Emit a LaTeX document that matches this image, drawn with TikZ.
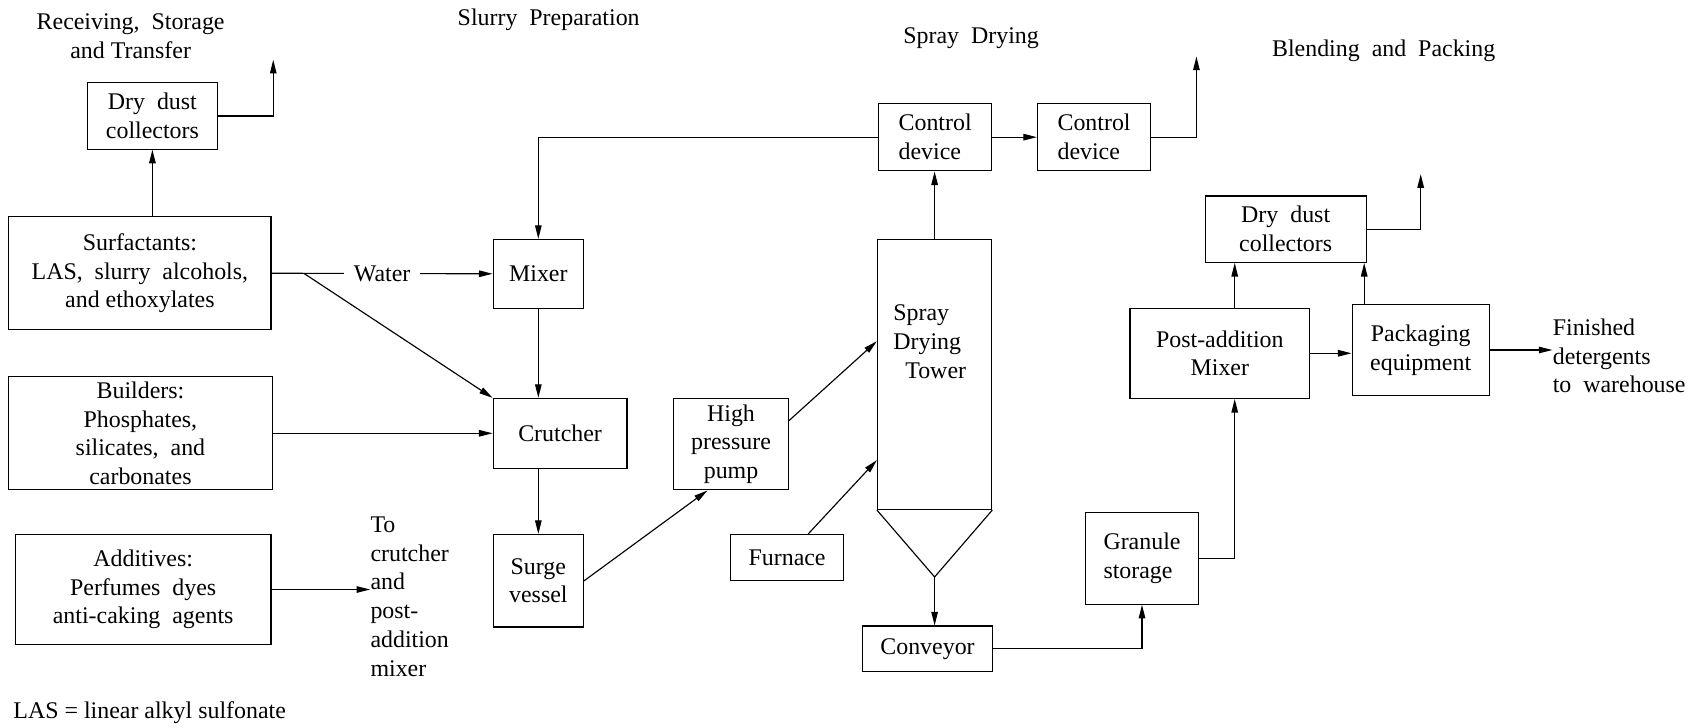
\documentclass[tikz,border=0pt]{standalone}
\usepackage{fontspec}
\setmainfont{Liberation Serif}
\usetikzlibrary{arrows.meta}

\begin{document}
\begin{tikzpicture}
	[x=0.02cm, y=-0.02cm, font=\fontsize{12.5}{15}\selectfont, inner sep=0pt,
	unit/.style	= {rectangle, draw, line width=0.6pt, inner sep=0pt, align=center},
	txt/.style	= {align=center},
	paths/.style	= {->, >={Triangle[length=2.5mm, width=1.2mm]}, line width=0.6pt},
	plain/.style	= {line width=0.6pt}]

	\useasboundingbox (0, 0) rectangle (1568, 668);

	% section headings
	\node at (120, 33)	[txt]	(hrec)		{Receiving,\ \ Storage\\and Transfer};
	\node at (504, 18)	[txt]	(hslurry)	{Slurry\ \ Preparation};
	\node at (892, 35)	[txt]	(hspray)	{Spray\ \ Drying};
	\node at (1271, 47)	[txt]	(hblend)	{Blending\ \ and\ \ Packing};
	\node at (12, 655)	[anchor=west]	(las)	{LAS = linear alkyl sulfonate};

	% raw materials
	\node at (140, 106.5)	[unit, minimum width=2.40cm, minimum height=1.22cm]	(dust1)	{Dry\ \ dust\\collectors};
	\node at (128.5, 251)	[unit, minimum width=4.82cm, minimum height=2.08cm]	(surf)	{Surfactants:\\LAS,\ \ slurry\ \ alcohols,\\and ethoxylates};
	\node at (129, 398)	[unit, minimum width=4.84cm, minimum height=2.08cm]	(build)	{Builders:\\Phosphates,\\silicates,\ \ and\\carbonates};
	\node at (131.5, 541.5)	[unit, minimum width=4.70cm, minimum height=2.02cm]	(addit)	{Additives:\\Perfumes\ \ dyes\\anti-caking\ \ agents};
	\node at (340, 548)	[anchor=west, align=left]	(tocrut)	{To\\crutcher\\and\\post-\\addition\\mixer};

	% slurry preparation
	\node at (494.5, 251.5)	[unit, minimum width=1.66cm, minimum height=1.26cm]	(mixer)	{Mixer};
	\node at (514.5, 398)	[unit, minimum width=2.46cm, minimum height=1.28cm]	(crutch)	{Crutcher};
	\node at (494.5, 533.5)	[unit, minimum width=1.66cm, minimum height=1.70cm]	(surge)	{Surge\\vessel};
	\node at (671.5, 408)	[unit, minimum width=2.10cm, minimum height=1.68cm]	(pump)	{High\\pressure\\pump};

	% spray drying
	\node at (723, 512)	[unit, minimum width=2.08cm, minimum height=0.84cm]	(furn)	{Furnace};
	\node at (858.5, 344)	[unit, minimum width=2.10cm, minimum height=4.96cm]	(tower)	{};
	\node at (854, 314)	[align=left]	(towertxt)	{Spray\\Drying\\\ \ Tower};
	\coordinate (tip) at (858.5, 530);
	\node at (859, 126)	[unit, align=left, minimum width=2.08cm, minimum height=1.24cm]	(ctrl1)	{Control\\device};
	\node at (1005, 126)	[unit, align=left, minimum width=2.08cm, minimum height=1.24cm]	(ctrl2)	{Control\\device};
	\node at (852, 596)	[unit, minimum width=2.40cm, minimum height=0.84cm]	(conv)	{Conveyor};

	% blending and packing
	\node at (1049, 513)	[unit, align=left, minimum width=2.08cm, minimum height=1.68cm]	(gran)	{Granule\\storage};
	\node at (1120.5, 324.5)	[unit, minimum width=3.30cm, minimum height=1.66cm]	(postmix)	{Post-addition\\Mixer};
	\node at (1181, 210.5)	[unit, minimum width=2.96cm, minimum height=1.22cm]	(dust2)	{Dry\ \ dust\\collectors};
	\node at (1305, 321.5)	[unit, minimum width=2.52cm, minimum height=1.66cm]	(pack)	{Packaging\\equipment};
	\node at (1426, 327)	[anchor=west, align=left]	(fin)	{Finished\\detergents\\to\ \ warehouse};

	\coordinate (vent1) at (251, 55);
	\coordinate (vent2) at (1099, 52);
	\coordinate (vent3) at (1305, 160);
	\coordinate (split) at (279, 251);

	\draw [paths] (dust1.south |- surf.north) -- (dust1.south);
	\draw [paths] (dust1.east) -| (vent1);
	\draw [paths] (surf.east) -- (mixer.west) node[midway, fill=white, inner xsep=5pt, inner ysep=2pt] {Water};
	\draw [paths] (split) -- (crutch.north west);
	\draw [paths] (ctrl1.west) -| (mixer.north);
	\draw [paths] (mixer.south) -- (mixer.south |- crutch.north);
	\draw [paths] (build.east) -- (crutch.west);
	\draw [paths] (surge.north |- crutch.south) -- (surge.north);
	\draw [paths] (addit.east) -- (tocrut.west |- addit.east);
	\draw [paths] (surge.east) -- (pump.243);
	\draw [paths] (pump.22) -- (tower.150);
	\draw [paths] (furn.48) -- (tower.236);
	\draw [plain] (tower.south west) -- (tip) -- (tower.south east);
	\draw [paths] (tip) -- (tip |- conv.north);
	\draw [paths] (tower.north) -- (tower.north |- ctrl1.south);
	\draw [paths] (ctrl1.east) -- (ctrl2.west);
	\draw [paths] (ctrl2.east) -| (vent2);
	\draw [paths] (conv.east) -| (gran.south);
	\draw [paths] (gran.east) -| (postmix.288);
	\draw [paths] (postmix.72) -- (postmix.72 |- dust2.south);
	\draw [paths] (postmix.east) -- (postmix.east -| pack.west);
	\draw [paths] (pack.141) -- (pack.141 |- dust2.south);
	\draw [paths] (dust2.east) -| (vent3);
	\draw [paths] (pack.east) -- (pack.east -| fin.west);
\end{tikzpicture}
\end{document}
